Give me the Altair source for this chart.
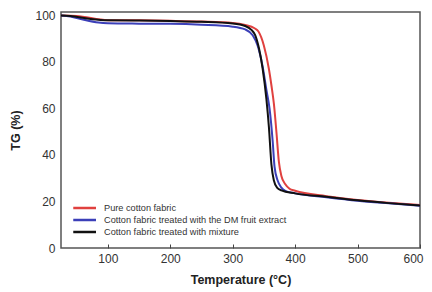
import altair as alt
import pandas as pd

series_names = ["Pure cotton fabric",
                "Cotton fabric treated with the DM fruit extract",
                "Cotton fabric treated with mixture"]
colors = ["#e0413f", "#3b3fb8", "#111111"]

red_t = [25, 50, 100, 150, 200, 250, 300, 320, 335, 341, 350, 358, 362, 366, 370, 374, 378, 384, 391, 400, 450, 500, 550, 600]
red_v = [100, 99.8, 98.0, 97.9, 97.7, 97.4, 96.8, 95.9, 94.5, 93.2, 87, 77, 70, 62, 50, 37, 31, 27.5, 25.5, 24.6, 22.3, 20.7, 19.5, 18.5]

blue_t = [25, 40, 60, 85, 100, 150, 200, 250, 300, 320, 332, 340, 348, 354, 359, 364, 367, 372, 378, 385, 400, 450, 500, 550, 600]
blue_v = [100, 99.6, 98.3, 97.0, 96.7, 96.5, 96.4, 96.0, 95.2, 94.0, 91.5, 87, 78, 68, 60, 46, 35, 29, 26, 24.5, 23.5, 21.8, 20.3, 19.2, 18.2]

black_t = [25, 40, 70, 100, 150, 200, 250, 300, 320, 330, 336, 342, 348, 354, 358, 362, 366, 371, 378, 400, 450, 500, 550, 600]
black_v = [100, 99.8, 98.6, 97.9, 97.8, 97.6, 97.3, 96.6, 95.5, 93.8, 91.6, 86, 77, 64, 52, 36, 29, 26, 24.8, 23.5, 22.0, 20.5, 19.3, 18.3]

rows = []
for i, (ts, vs) in enumerate([(red_t, red_v), (blue_t, blue_v), (black_t, black_v)]):
    for t, v in zip(ts, vs):
        rows.append({"T": t, "TG": v, "series": series_names[i], "order": i})
df = pd.DataFrame(rows)

chart = alt.Chart(df).mark_line(strokeWidth=2, interpolate="monotone").encode(
    x=alt.X("T:Q", title="Temperature (°C)",
            scale=alt.Scale(domain=[25, 600], nice=False, zero=False),
            axis=alt.Axis(values=[100, 200, 300, 400, 500, 600], grid=False,
                          tickSize=alt.ExprRef("-4"), tickColor="#444", domain=False,
                          labelFlush=True, labelFlushOffset=3,
                          labelFontSize=12, labelColor="#333", labelPadding=9,
                          titleFontSize=12.5, titleFontWeight="bold", titleColor="#222",
                          titlePadding=9, labelFont="Liberation Sans", titleFont="Liberation Sans")),
    y=alt.Y("TG:Q", title="TG (%)",
            scale=alt.Scale(domain=[0, 101.5], nice=False),
            axis=alt.Axis(values=[0, 20, 40, 60, 80, 100], grid=False, ticks=False,
                          domain=False, labelFlush=False,
                          labelFontSize=12, labelColor="#333", labelPadding=6,
                          titleFontSize=12.5, titleFontWeight="bold", titleColor="#222",
                          titlePadding=12, labelFont="Liberation Sans", titleFont="Liberation Sans")),
    color=alt.Color("series:N", scale=alt.Scale(domain=series_names, range=colors),
                    legend=alt.Legend(title=None, orient="none", legendX=11, legendY=190,
                                      symbolType="M-1,0H3.8", symbolStrokeWidth=2.5,
                                      symbolSize=90, rowPadding=0, labelFontSize=9.2,
                                      labelColor="#333", labelFont="Liberation Sans",
                                      labelOffset=20, labelLimit=400)),
    order=alt.Order("order:Q"),
    detail="series:N",
).properties(
    width=359, height=236,
    autosize=alt.AutoSizeParams(type="none"),
    padding={"left": 53, "top": 4, "right": 4, "bottom": 44},
).configure_view(stroke="#555", strokeWidth=1.5)

chart.save("out.html", embed_options={"renderer": "svg", "actions": False})
